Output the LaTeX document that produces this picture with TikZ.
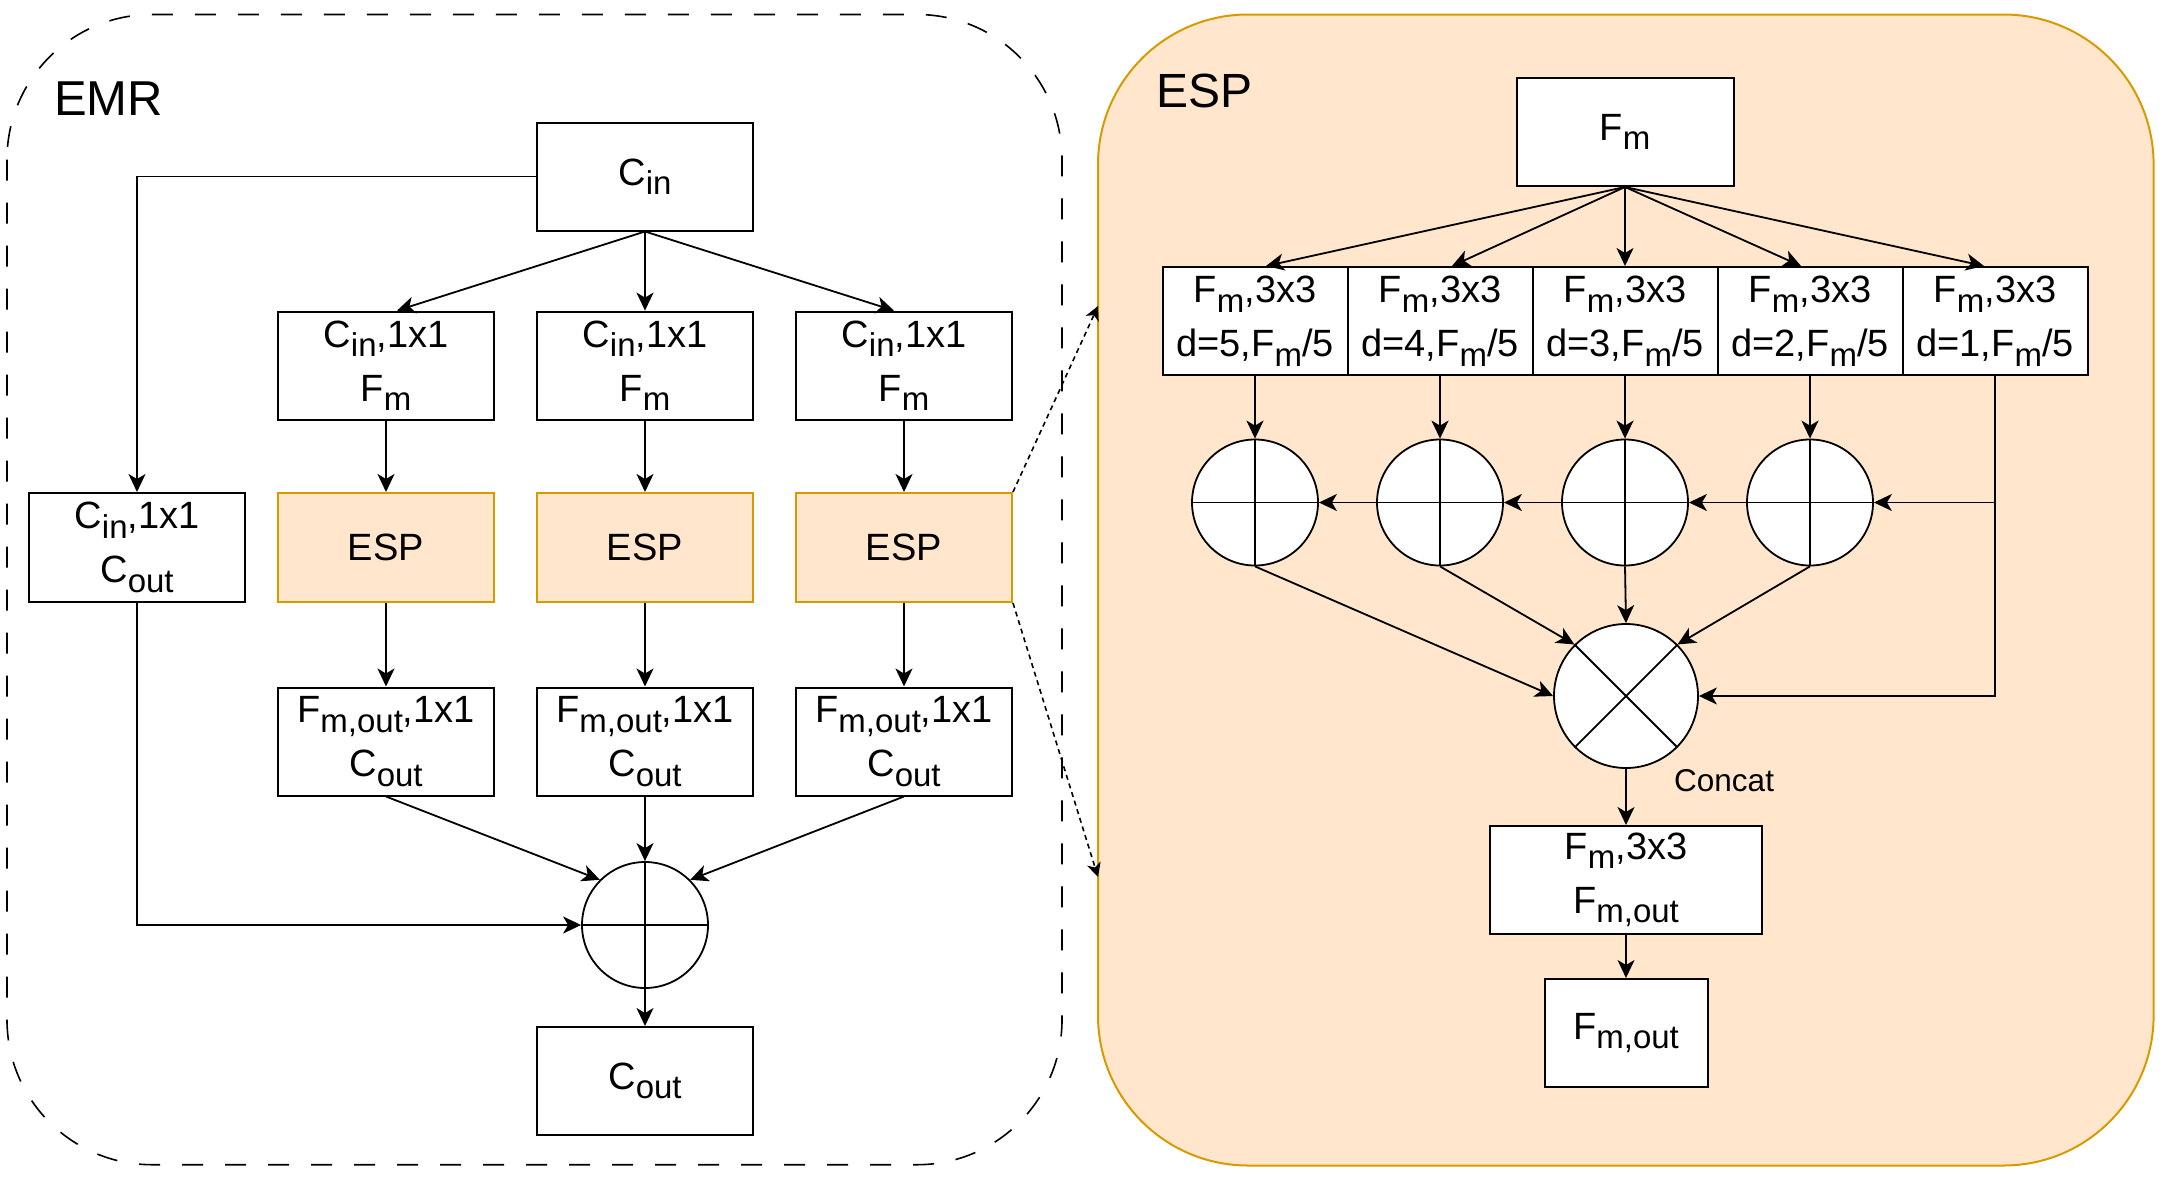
\documentclass[tikz,border=0pt]{standalone}
\usepackage{fontspec}
\setmainfont{Liberation Sans}
\usetikzlibrary{arrows.meta,calc}
\definecolor{espfill}{HTML}{FFE6CC}
\definecolor{espdraw}{HTML}{D79B00}
\newcommand\mf{\fontsize{38}{54}\selectfont}
\newcommand\lsub[1]{\raisebox{-9.5pt}{\fontsize{33}{33}\selectfont #1}}
\begin{document}
\begin{tikzpicture}[x=1pt,y=-1pt,
  box/.style={draw, line width=2pt, fill=white, inner sep=0pt, align=center, font=\mf,
    minimum width=216pt, minimum height=108pt},
  espsmall/.style={box, fill=espfill, draw=espdraw},
  cbox/.style={box, minimum width=185pt},
  opc/.style={circle, draw, line width=1.8pt, fill=white, inner sep=0pt, minimum size=126pt},
  arr/.style={line width=1.8pt, -{Stealth[length=18pt,width=17pt,inset=5pt]}},
  darr/.style={line width=1.6pt, dash pattern=on 5pt off 4pt, -{Stealth[length=14pt,width=14pt,inset=4pt]}},
  lab/.style={anchor=base west, inner sep=0pt}]
\useasboundingbox (0,0) rectangle (2166,1181);
% containers
\draw[line width=1.6pt, dash pattern=on 21pt off 22pt, rounded corners=145pt] (7,14.5) rectangle (1062,1164.7);
\draw[line width=2pt, draw=espdraw, fill=espfill, rounded corners=150pt] (1098,14.5) rectangle (2153.6,1165.5);
\node[lab, font=\fontsize{49}{49}\selectfont] (emrlab) at (54,115) {EMR};
\node[lab, font=\fontsize{48}{48}\selectfont] (esplab) at (1156,107) {ESP};
% EMR nodes
\node[box] (cin) at (645,176.5) {C\lsub{in}};
\node[box, minimum height=109pt] (c1) at (137,547.5) {C\lsub{in},1x1\\C\lsub{out}};
\foreach \i/\x in {1/386,2/645,3/904}{
  \node[box] (a\i) at (\x,365.6) {C\lsub{in},1x1\\F\lsub{m}};
  \node[espsmall, minimum height=109pt] (e\i) at (\x,547.5) {ESP};
  \node[box] (f\i) at (\x,741.5) {F\lsub{m,out},1x1\\C\lsub{out}};
}
\node[opc] (plus) at (645,925) {};
\draw[line width=1.8pt] (plus.north) -- (plus.south) (plus.west) -- (plus.east);
\node[box] (cout) at (645,1081) {C\lsub{out}};
% EMR edges
\draw[arr] (cin.west) -| (c1.north);
\draw[arr] (cin.south) -- ($(a1.north)+(11,0)$);
\draw[arr] (cin.south) -- (a2.north);
\draw[arr] (cin.south) -- ($(a3.north)+(-10,0)$);
\foreach \i in {1,2,3}{
  \draw[arr] (a\i.south) -- (e\i.north);
  \draw[arr] (e\i.south) -- (f\i.north);
}
\draw[arr] (f1.south) -- (plus.135);
\draw[arr] (f2.south) -- (plus.north);
\draw[arr] (f3.south) -- (plus.45);
\draw[arr] (c1.south) |- (plus.west);
\draw[arr] (plus.south) -- (cout.north);
% zoom connectors
\coordinate (zt) at (1098,306);
\coordinate (zb) at (1098,877);
\draw[darr] (e3.north east) -- (zt);
\draw[darr] (e3.south east) -- (zb);
% ESP nodes
\node[box, minimum width=217pt] (fm) at (1625,132) {F\lsub{m}};
\foreach \i/\x/\d in {1/1255/5,2/1440/4,3/1625/3,4/1810/2,5/1995/1}{
  \node[cbox] (b\i) at (\x,321) {F\lsub{m},3x3\\d=\d,F\lsub{m}/5};
}
\foreach \i/\x in {1/1255,2/1440,3/1625,4/1810}{
  \node[opc] (p\i) at (\x,502.5) {};
  \draw[line width=1.8pt] (p\i.north) -- (p\i.south) (p\i.west) -- (p\i.east);
}
\node[opc, minimum size=144pt] (cc) at (1626,696) {};
\draw[line width=1.8pt] (cc.45) -- (cc.225) (cc.135) -- (cc.315);
\node[lab, font=\fontsize{31.5}{31.5}\selectfont] (concat) at (1674,791.6) {Concat};
\node[box, minimum width=272pt] (g) at (1626,880) {F\lsub{m},3x3\\F\lsub{m,out}};
\node[box, minimum width=163pt] (h) at (1626,1033) {F\lsub{m,out}};
% ESP edges
\draw[arr] (fm.south) -- ($(b1.north)+(11,0)$);
\draw[arr] (fm.south) -- ($(b2.north)+(12,0)$);
\draw[arr] (fm.south) -- (b3.north);
\draw[arr] (fm.south) -- ($(b4.north)+(-9,0)$);
\draw[arr] (fm.south) -- ($(b5.north)+(-11,0)$);
\foreach \i in {1,2,3,4}{
  \draw[arr] (b\i.south) -- (p\i.north);
}
\draw[arr] (b5.south) |- (p4.east);
\draw[arr] (b5.south) |- (cc.east);
\draw[arr] (p4.west) -- (p3.east);
\draw[arr] (p3.west) -- (p2.east);
\draw[arr] (p2.west) -- (p1.east);
\draw[arr] (p1.south) -- (cc.west);
\draw[arr] (p2.south) -- (cc.135);
\draw[arr] (p3.south) -- (cc.north);
\draw[arr] (p4.south) -- (cc.45);
\draw[arr] (cc.south) -- (g.north);
\draw[arr] (g.south) -- (h.north);
\end{tikzpicture}
\end{document}
